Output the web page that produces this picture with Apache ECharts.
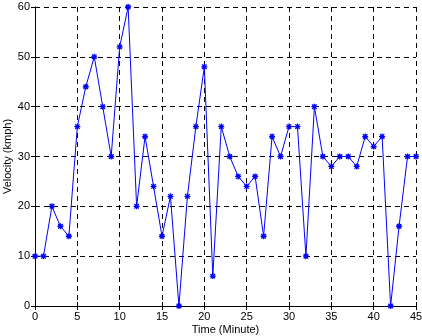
<!DOCTYPE html>
<html>
<head>
<meta charset="utf-8">
<script src="https://cdn.jsdelivr.net/npm/echarts@6/dist/echarts.min.js"></script>
<style>
  html, body { margin: 0; padding: 0; background: #fff; }
  #chart { width: 422px; height: 336px; }
</style>
</head>
<body>
<div id="chart"></div>
<script>
// time in minutes and measured velocity
const minutes = [];
for (let i = 0; i <= 45; i++) minutes.push(i);
const velocity = [10, 10, 20, 16, 14, 36, 44, 50, 40, 30, 52, 60, 20, 34, 24, 14, 22, 0, 22, 36,
                  48, 6, 36, 30, 26, 24, 26, 14, 34, 30, 36, 36, 10, 40, 30, 28, 30, 30, 28, 34,
                  32, 34, 0, 16, 30, 30];

const points = minutes.map((m, i) => [m, velocity[i]]);

const font = 'Liberation Sans, Arial, sans-serif';
const star = 'path://M0,-4L0,4M-4,0L4,0M-3,-3L3,3M-3,3L3,-3';

let chart = echarts.init(document.getElementById('chart'));

function axisCommon(show) {
    return {
        axisLine: { show: true, lineStyle: { color: '#000', width: 1 } },
        axisTick: { show: true, inside: true, length: 4, lineStyle: { color: '#000' } },
        axisLabel: { show: show, color: '#000', fontFamily: font, fontSize: 11, margin: 5 },
    };
}

let options = {
    animation: false,
    grid: { left: 35, right: 6, top: 7, bottom: 30, show: false, outerBoundsMode: 'none', containLabel: false },
    xAxis: [
        Object.assign({
            type: 'value', min: 0, max: 45, interval: 5,
            name: 'Time (Minute)', nameLocation: 'middle', nameGap: 18, nameMoveOverlap: false,
            nameTextStyle: { color: '#000', fontFamily: font, fontSize: 11 },
            splitLine: { show: true, lineStyle: { color: '#000', type: [5, 4], width: 1 } }
        }, axisCommon(true)),
        Object.assign({
            type: 'value', min: 0, max: 45, interval: 5, position: 'top',
            splitLine: { show: false }
        }, axisCommon(false))
    ],
    yAxis: [
        Object.assign({
            type: 'value', min: 0, max: 60, interval: 10,
            name: 'Velocity (kmph)', nameLocation: 'middle', nameGap: 22, nameMoveOverlap: false,
            nameTextStyle: { color: '#000', fontFamily: font, fontSize: 11 },
            splitLine: { show: true, lineStyle: { color: '#000', type: [5, 4], width: 1 } }
        }, axisCommon(true)),
        Object.assign({
            type: 'value', min: 0, max: 60, interval: 10, position: 'right',
            splitLine: { show: false }
        }, axisCommon(false))
    ],
    series: [{
        type: 'line',
        data: points,
        symbol: star,
        symbolSize: 6,
        showAllSymbol: true,
        lineStyle: { color: '#0000ff', width: 1 },
        itemStyle: { color: 'none', borderColor: '#0000ff', borderWidth: 1.3 }
    }]
};

chart.setOption(options);
</script>
</body>
</html>
